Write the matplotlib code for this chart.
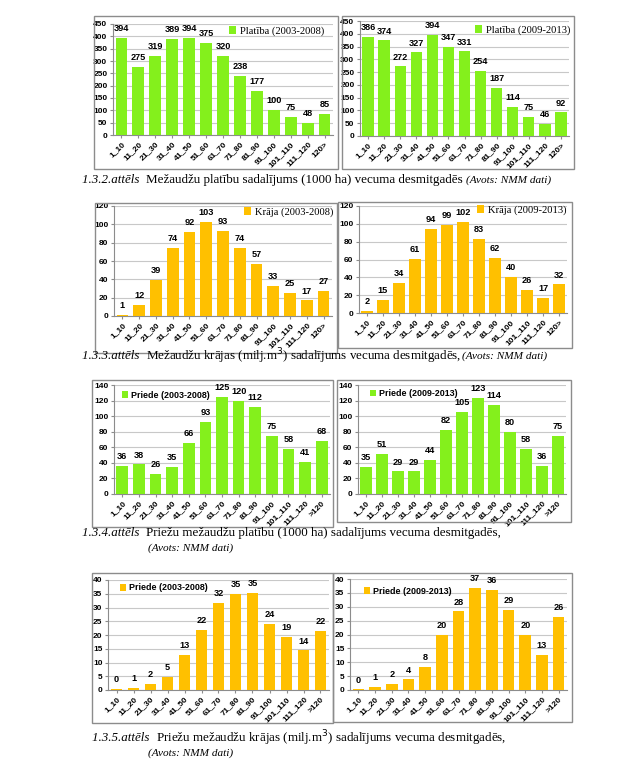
import matplotlib
matplotlib.use("Agg")
import matplotlib.pyplot as plt
from matplotlib.patches import Rectangle
from matplotlib import font_manager
import numpy as np

W, H = 630, 783

ages_a = ["1_10", "11_20", "21_30", "31_40", "41_50", "51_60", "61_70", "71_80",
          "81_90", "91_100", "101_110", "111_120", "120>"]
ages_b = ["1_10", "11_20", "21_30", "31_40", "41_50", "51_60", "61_70", "71_80",
          "81_90", "91_100", "101_110", "111_120", ">120"]

platiba_0308 = [394, 275, 319, 389, 394, 375, 320, 238, 177, 100, 75, 48, 85]
platiba_0913 = [386, 374, 272, 327, 394, 347, 331, 254, 187, 114, 75, 46, 92]
kraja_0308 = [1, 12, 39, 74, 92, 103, 93, 74, 57, 33, 25, 17, 27]
kraja_0913 = [2, 15, 34, 61, 94, 99, 102, 83, 62, 40, 26, 17, 32]
priede_pl_0308 = [36, 38, 26, 35, 66, 93, 125, 120, 112, 75, 58, 41, 68]
priede_pl_0913 = [35, 51, 29, 29, 44, 82, 105, 123, 114, 80, 58, 36, 75]
priede_kr_0308 = [0.3, 0.7, 2.3, 4.6, 12.7, 21.8, 31.6, 34.8, 35.2, 24.1, 19.2, 14.4, 21.6]
priede_kr_0913 = [0.2, 1.1, 2.1, 3.8, 8.4, 20.0, 28.3, 36.7, 36.1, 28.7, 19.8, 12.6, 26.4]

GREEN = "#84F01C"
GOLD = "#FFC000"
SERIF = "Liberation Serif"
SANS = "Liberation Sans"
_names = {f.name for f in font_manager.fontManager.ttflist}
NARROW = "Liberation Sans Narrow" if "Liberation Sans Narrow" in _names else SANS
NARROW_SIZE = 7.4 if NARROW != SANS else 6.6

fig = plt.figure(figsize=(W / 100, H / 100), dpi=100)
fig.patch.set_facecolor("white")


def frac(x0, y0, x1, y1):
    return [x0 / W, 1 - y1 / H, (x1 - x0) / W, (y1 - y0) / H]


def box(x0, y0, x1, y1):
    r = Rectangle((x0 / W, 1 - y1 / H), (x1 - x0) / W, (y1 - y0) / H,
                  transform=fig.transFigure, fill=False, edgecolor="#8c8c8c",
                  linewidth=1.0)
    fig.patches.append(r)


def panel(boxr, axr, vals, ticks, color, ymax, ystep, label, serif_legend, leg_px):
    box(*boxr)
    ax = fig.add_axes(frac(*axr))
    x = np.arange(len(vals))
    bars = ax.bar(x, vals, width=0.7, color=color, label=label, zorder=3)
    ax.set_xlim(-0.5, len(vals) - 0.5)
    ax.set_ylim(0, ymax)
    ax.set_yticks(np.arange(0, ymax + 0.1, ystep))
    ax.yaxis.grid(True, color="#c8c8c8", linewidth=0.8, zorder=0)
    ax.set_axisbelow(True)
    for s in ["top", "right"]:
        ax.spines[s].set_visible(False)
    for s in ["left", "bottom"]:
        ax.spines[s].set_color("#8c8c8c")
        ax.spines[s].set_linewidth(0.8)
    ax.set_xticks(x)
    ax.set_xticklabels(ticks, rotation=45, ha="right", rotation_mode="anchor",
                       fontsize=NARROW_SIZE - 0.6, fontweight="bold", family=NARROW)
    ax.tick_params(axis="x", length=2.5, pad=1.5, color="#8c8c8c")
    ax.tick_params(axis="y", length=2.5, pad=1.5, color="#8c8c8c",
                   labelsize=NARROW_SIZE - 0.6)
    for t in ax.get_yticklabels():
        t.set_fontweight("bold")
        t.set_family(NARROW)
    for b, v in zip(bars, vals):
        ax.annotate("%.0f" % v, (b.get_x() + b.get_width() / 2, v),
                    xytext=(0, 3.5), textcoords="offset points", ha="center",
                    va="bottom", fontsize=NARROW_SIZE, fontweight="bold",
                    family=NARROW)
    if serif_legend:
        prop = dict(family=SERIF, size=7.6)
    else:
        prop = dict(family=SANS, size=6.4, weight="bold")
    ax.legend(loc="center left", bbox_to_anchor=(leg_px[0] / W, 1 - leg_px[1] / H),
              bbox_transform=fig.transFigure, frameon=False, prop=prop,
              handlelength=0.7, handleheight=0.7, handletextpad=0.35,
              borderaxespad=0, borderpad=0)
    return ax


panel((94, 16, 338, 169), (113, 24, 333, 135), platiba_0308, ages_a, GREEN,
      450, 50, "Platība (2003-2008)", True, (229, 31))
panel((342, 16, 574, 169), (360, 21, 569, 136), platiba_0913, ages_a, GREEN,
      450, 50, "Platība (2009-2013)", True, (475, 30))
panel((95, 203, 337, 353), (114, 206, 332, 316), kraja_0308, ages_a, GOLD,
      120, 20, "Krāja (2003-2008)", True, (244, 212))
panel((338, 202, 572, 348), (359, 206, 567, 313), kraja_0913, ages_a, GOLD,
      120, 20, "Krāja (2009-2013)", True, (477, 210))
panel((92, 380, 333, 527), (114, 385, 330, 494), priede_pl_0308, ages_b, GREEN,
      140, 20, "Priede (2003-2008)", False, (122, 395))
panel((337, 380, 571, 522), (358, 385, 566, 494), priede_pl_0913, ages_b, GREEN,
      140, 20, "Priede (2009-2013)", False, (370, 394))
panel((92, 573, 333, 723), (108, 580, 329, 690), priede_kr_0308, ages_b, GOLD,
      40, 5, "Priede (2003-2008)", False, (120, 588))
panel((333, 573, 572, 722), (350, 579, 567, 690), priede_kr_0913, ages_b, GOLD,
      40, 5, "Priede (2009-2013)", False, (364, 591))

fig.canvas.draw()
renderer = fig.canvas.get_renderer()


def caption(x, y, pieces):
    """pieces: list of (text, style, size)"""
    for txt, style, size in pieces:
        t = fig.text(x / W, 1 - y / H, txt, family=SERIF, style=style,
                     fontsize=size, va="center", ha="left")
        bb = t.get_window_extent(renderer)
        x += bb.width


caption(82, 180, [("1.3.2.attēls  ", "italic", 9.4),
                  ("Mežaudžu platību sadalījums (1000 ha) vecuma desmitgadēs ", "normal", 9.4),
                  ("(Avots: NMM dati)", "italic", 8.1)])
caption(82, 356, [("1.3.3.attēls  ", "italic", 9.4),
                  ("Mežaudžu krājas (milj.m$^{3}$) sadalījums vecuma desmitgadēs, ", "normal", 9.4),
                  ("(Avots: NMM dati)", "italic", 8.1)])
caption(82, 533, [("1.3.4.attēls  ", "italic", 9.4),
                  ("Priežu mežaudžu platību (1000 ha) sadalījums vecuma desmitgadēs,", "normal", 9.4)])
caption(148, 548, [("(Avots: NMM dati)", "italic", 8.1)])
caption(92, 738, [("1.3.5.attēls  ", "italic", 9.4),
                  ("Priežu mežaudžu krājas (milj.m$^{3}$) sadalījums vecuma desmitgadēs,", "normal", 9.4)])
caption(148, 753, [("(Avots: NMM dati)", "italic", 8.1)])

fig.savefig("out.png", dpi=100, facecolor="white")
